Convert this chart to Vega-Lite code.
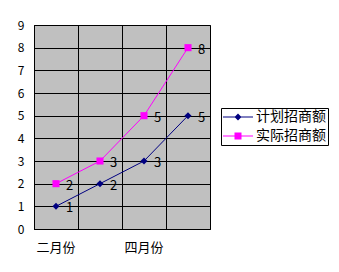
{
  "$schema": "https://vega.github.io/schema/vega-lite/v6.json",
  "autosize": {"type": "none"},
  "width": 176,
  "height": 204,
  "padding": {"left": 34, "top": 25, "right": 129, "bottom": 43},
  "background": "white",
  "config": {
    "view": {"fill": "#C0C0C0", "stroke": "black", "strokeWidth": 1},
    "font": "Noto Sans CJK SC"
  },
  "data": {
    "values": [
      {"month": "二月份", "series": "计划招商额", "value": 1},
      {"month": "三月份", "series": "计划招商额", "value": 2},
      {"month": "四月份", "series": "计划招商额", "value": 3},
      {"month": "五月份", "series": "计划招商额", "value": 5},
      {"month": "二月份", "series": "实际招商额", "value": 2},
      {"month": "三月份", "series": "实际招商额", "value": 3},
      {"month": "四月份", "series": "实际招商额", "value": 5},
      {"month": "五月份", "series": "实际招商额", "value": 8}
    ]
  },
  "encoding": {
    "x": {
      "field": "month", "type": "nominal",
      "sort": ["二月份", "三月份", "四月份", "五月份"],
      "scale": {"type": "band", "paddingInner": 0, "paddingOuter": 0},
      "axis": {
        "title": null, "labelAngle": 0, "labelFontSize": 13, "labelColor": "black",
        "labelPadding": 12, "ticks": false, "domainColor": "black", "labelOverlap": false,
        "grid": true, "gridColor": "black", "gridOpacity": 1, "bandPosition": 0,
        "labelExpr": "datum.value == '二月份' || datum.value == '四月份' ? datum.value : ''"
      }
    },
    "y": {
      "field": "value", "type": "quantitative",
      "scale": {"domain": [0, 9], "nice": false},
      "axis": {
        "title": null, "values": [0,1,2,3,4,5,6,7,8,9], "labelOverlap": false,
        "labelFontSize": 12, "labelColor": "black", "labelPadding": 10,
        "ticks": false, "domainColor": "black",
        "grid": true, "gridColor": "black", "gridOpacity": 1
      }
    },
    "color": {
      "field": "series", "type": "nominal",
      "scale": {"domain": ["计划招商额", "实际招商额"], "range": ["#000080", "#FF00FF"]},
      "legend": {
        "title": null, "orient": "none", "legendX": 187, "legendY": 83,
        "strokeColor": "black", "fillColor": "white", "padding": 2,
        "labelFontSize": 14, "labelColor": "black", "labelOffset": 19,
        "symbolSize": 196, "symbolStrokeWidth": 0, "rowPadding": 5,
        "encode": {
          "symbols": {
            "update": {
              "shape": {"signal": "datum.value == '计划招商额' ? 'M-1,-0.07H3.286V0.07H-1Z M1.143,-0.5L1.643,0L1.143,0.5L0.643,0Z' : 'M-1,-0.07H3.286V0.07H-1Z M0.643,-0.5H1.643V0.5H0.643Z'"},
              "fill": {"signal": "datum.value == '计划招商额' ? '#000080' : '#FF00FF'"},
              "strokeWidth": {"value": 0},
              "opacity": {"value": 1}
            }
          }
        }
      }
    }
  },
  "layer": [
    {
      "mark": {"type": "line", "strokeWidth": 1}
    },
    {
      "transform": [{"filter": "datum.series == '计划招商额'"}],
      "mark": {"type": "point", "shape": "diamond", "filled": true, "opacity": 1, "size": 50}
    },
    {
      "transform": [{"filter": "datum.series == '实际招商额'"}],
      "mark": {"type": "point", "shape": "square", "filled": true, "opacity": 1, "size": 50}
    },
    {
      "mark": {"type": "text", "align": "left", "dx": 10, "dy": 2, "fontSize": 13},
      "encoding": {"text": {"field": "value", "type": "quantitative"}, "color": {"value": "black"}}
    }
  ]
}
